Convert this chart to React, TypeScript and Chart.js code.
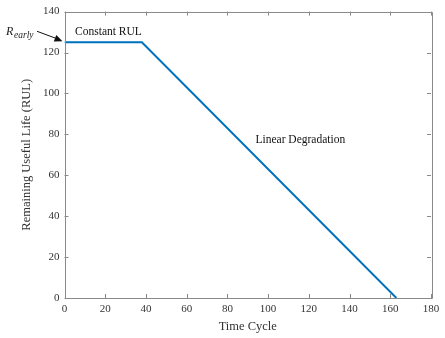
import React, { useEffect, useRef } from "react";
import { Chart, registerables } from "chart.js";

Chart.register(...registerables);

const timeCycle = [0, 38, 163];
const rul = [125, 125, 0];
const xTicks = [0, 20, 40, 60, 80, 100, 120, 140, 160, 180];
const yTicks = [0, 20, 40, 60, 80, 100, 120, 140];
const xTitle = "Time Cycle";
const yTitle = "Remaining Useful Life (RUL)";
const notes = [
  { text: "Constant RUL", x: 5.2, y: 130 },
  { text: "Linear Degradation", x: 93.8, y: 77 },
];
const rEarlyValue = 125;

const SERIF = "'Liberation Serif', 'Times New Roman', serif";
const AXIS = "#8a8a8a";
const TEXT = "#333333";

const decor = {
  id: "decor",
  afterDraw(chart: any) {
    const { ctx, chartArea: a, scales } = chart;
    const xs = scales.x;
    const ys = scales.y;
    ctx.save();
    // box
    ctx.strokeStyle = AXIS;
    ctx.lineWidth = 1;
    ctx.beginPath();
    ctx.rect(Math.round(a.left) + 0.5, Math.round(a.top) + 0.5, Math.round(a.right - a.left), Math.round(a.bottom - a.top));
    ctx.stroke();
    // inward ticks
    const tl = 4;
    ctx.beginPath();
    for (const v of xTicks) {
      const px = Math.round(xs.getPixelForValue(v)) + 0.5;
      ctx.moveTo(px, a.bottom);
      ctx.lineTo(px, a.bottom - tl);
      ctx.moveTo(px, a.top);
      ctx.lineTo(px, a.top + tl);
    }
    for (const v of yTicks) {
      const py = Math.round(ys.getPixelForValue(v)) + 0.5;
      ctx.moveTo(a.left, py);
      ctx.lineTo(a.left + tl, py);
      ctx.moveTo(a.right, py);
      ctx.lineTo(a.right - tl, py);
    }
    ctx.stroke();
    // annotations
    ctx.fillStyle = "#111";
    ctx.font = `11.5px ${SERIF}`;
    ctx.textBaseline = "middle";
    ctx.textAlign = "left";
    for (const n of notes) {
      ctx.fillText(n.text, xs.getPixelForValue(n.x), ys.getPixelForValue(n.y));
    }
    // R_early label and arrow
    const tipY = ys.getPixelForValue(rEarlyValue) - 1;
    const tipX = a.left - 2;
    ctx.font = `italic 12px ${SERIF}`;
    ctx.fillStyle = "#222";
    ctx.fillText("R", 6, tipY - 9);
    ctx.font = `italic 9.5px ${SERIF}`;
    ctx.fillText("early", 14, tipY - 6);
    const sx = 37, sy = tipY - 10;
    ctx.strokeStyle = "#111";
    ctx.lineWidth = 1;
    ctx.beginPath();
    ctx.moveTo(sx, sy);
    ctx.lineTo(tipX - 4, tipY - 2);
    ctx.stroke();
    const ang = Math.atan2(tipY - sy, tipX - sx);
    const hl = 8, hw = 3.5;
    ctx.beginPath();
    ctx.moveTo(tipX, tipY);
    ctx.lineTo(tipX - hl * Math.cos(ang) + hw * Math.sin(ang), tipY - hl * Math.sin(ang) - hw * Math.cos(ang));
    ctx.lineTo(tipX - hl * Math.cos(ang) - hw * Math.sin(ang), tipY - hl * Math.sin(ang) + hw * Math.cos(ang));
    ctx.closePath();
    ctx.fillStyle = "#111";
    ctx.fill();
    ctx.restore();
  },
};

export default function App() {
  const ref = useRef<HTMLCanvasElement>(null);
  useEffect(() => {
    if (!ref.current) return;
    const chart = new Chart(ref.current, {
      type: "scatter",
      data: {
        datasets: [
          {
            data: timeCycle.map((t, i) => ({ x: t, y: rul[i] })),
            showLine: true,
            borderColor: "#0072BD",
            backgroundColor: "#0072BD",
            borderWidth: 2,
            pointRadius: 0,
            fill: false,
          },
        ],
      },
      options: {
        animation: false,
        responsive: false,
        maintainAspectRatio: false,
        layout: { padding: { left: 0, right: 14, top: 10, bottom: 0 } },
        plugins: { legend: { display: false }, tooltip: { enabled: false } },
        scales: {
          x: {
            type: "linear",
            min: 0,
            max: 180,
            afterBuildTicks: (s: any) => {
              s.ticks = xTicks.map((v) => ({ value: v }));
            },
            afterFit: (s: any) => {
              s.height = 40;
            },
            grid: { display: false, drawTicks: false, tickLength: 0 },
            border: { display: false },
            ticks: { color: TEXT, font: { family: SERIF, size: 11 }, padding: 5, maxRotation: 0 },
            title: { display: true, text: xTitle, color: TEXT, font: { family: SERIF, size: 12.5 }, padding: { top: 0, bottom: 4 } },
          },
          y: {
            type: "linear",
            min: 0,
            max: 140,
            afterBuildTicks: (s: any) => {
              s.ticks = yTicks.map((v) => ({ value: v }));
            },
            afterFit: (s: any) => {
              s.width = 64.5;
            },
            grid: { display: false, drawTicks: false, tickLength: 0 },
            border: { display: false },
            ticks: { color: TEXT, font: { family: SERIF, size: 11 }, padding: 5 },
            title: { display: true, text: yTitle, color: TEXT, font: { family: SERIF, size: 12.5 }, padding: { top: 19, bottom: 0 } },
          },
        },
      },
      plugins: [decor],
    });
    return () => chart.destroy();
  }, []);
  return (
    <div style={{ position: "absolute", left: 0, top: 0, width: 445, height: 338, background: "#fff" }}>
      <canvas ref={ref} width={445} height={338} style={{ width: 445, height: 338 }} />
    </div>
  );
}
